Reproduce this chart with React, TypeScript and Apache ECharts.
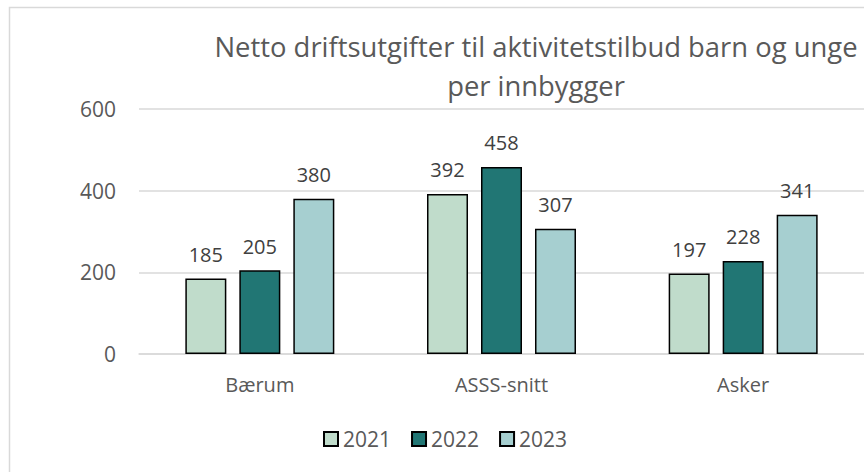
import React, { useEffect, useRef } from "react";
import * as echarts from "echarts";

const categories = ["Bærum", "ASSS-snitt", "Asker"];
const years = ["2021", "2022", "2023"];
const values2021 = [185, 392, 197];
const values2022 = [205, 458, 228];
const values2023 = [380, 307, 341];
const colors = ["#c0dccb", "#217674", "#a6cfd0"];
const yTicks = [0, 200, 400, 600];
const titleText = "Netto driftsutgifter til aktivitetstilbud barn og unge\nper innbygger";

const FONT = "'Open Sans', sans-serif";

export default function App() {
  const ref = useRef<HTMLDivElement>(null);
  useEffect(() => {
    if (!ref.current) return;
    const chart = echarts.init(ref.current, undefined, { renderer: "svg" });
    const seriesData = [values2021, values2022, values2023];
    chart.setOption({
      animation: false,
      backgroundColor: "#ffffff",
      textStyle: { fontFamily: FONT },
      title: {
        text: titleText,
        left: 531,
        top: 22,
        textAlign: "center",
        textStyle: {
          fontFamily: FONT,
          fontSize: 27.4,
          fontWeight: "normal",
          color: "#595959",
          lineHeight: 39,
        },
      },
      graphic: [
        {
          type: "rect",
          shape: { x: 9.5, y: 7.5, width: 1200, height: 1200 },
          style: { fill: "none", stroke: "#d9d9d9", lineWidth: 1.5 },
          silent: true,
          z: -1,
        },
      ],
      legend: {
        data: years,
        left: 318,
        top: 422,
        itemWidth: 14,
        itemHeight: 14,
        itemGap: 20,
        icon: "rect",
        textStyle: { fontFamily: FONT, fontSize: 21, color: "#595959", lineHeight: 24 },
      },
      grid: { left: 139, right: -5, top: 109, bottom: 118, containLabel: false },
      xAxis: {
        type: "category",
        data: categories,
        axisLine: { show: true, lineStyle: { color: "#d9d9d9", width: 1.5 } },
        axisTick: { show: false },
        axisLabel: { fontFamily: FONT, fontSize: 20, color: "#595959", margin: 20 },
      },
      yAxis: {
        type: "value",
        min: yTicks[0],
        max: yTicks[yTicks.length - 1],
        interval: 200,
        axisLine: { show: false },
        axisTick: { show: false },
        splitLine: { lineStyle: { color: "#d9d9d9", width: 1.5 } },
        axisLabel: { fontFamily: FONT, fontSize: 21, color: "#595959", margin: 23 },
      },
      series: years.map((y, i) => ({
        name: y,
        type: "bar",
        data: seriesData[i],
        barWidth: 41,
        barGap: "31.7%",
        itemStyle: { color: colors[i], borderColor: "#000000", borderWidth: 1.5 },
        label: {
          show: true,
          position: "top",
          distance: 14,
          fontFamily: FONT,
          fontSize: 20,
          color: "#404040",
        },
      })),
    });
    return () => chart.dispose();
  }, []);
  return (
    <div
      ref={ref}
      style={{ position: "fixed", left: 0, top: 0, width: 864, height: 472 }}
    />
  );
}
